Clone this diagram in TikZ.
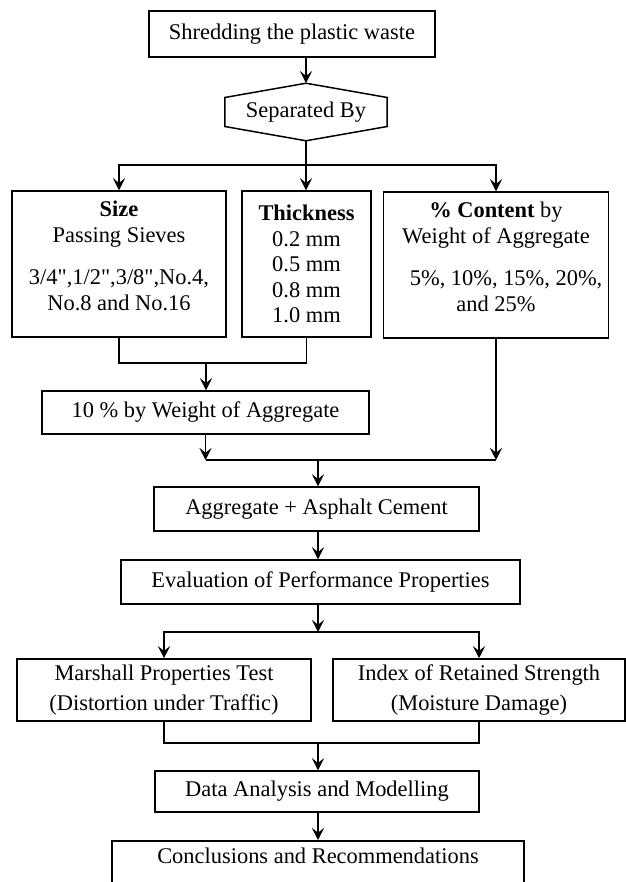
\documentclass[tikz,border=0pt]{standalone}
\usepackage{fontspec}
\setmainfont{Liberation Serif}
\usepackage{tikz}
\usetikzlibrary{arrows.meta}
\usetikzlibrary{calc}

\tikzset{
  box/.style={draw, line width=0.8pt, align=center, inner sep=2pt, font=\fontsize{12}{13.7}\selectfont},
  conn/.style={line width=0.8pt},
  arr/.style={conn, -{Stealth[length=6.5pt,width=6.5pt,inset=2.6pt]}}
}
\newcommand{\qd}{\textquotedbl}

\begin{document}
\begin{tikzpicture}[x=0.535pt,y=-0.535pt]
\useasboundingbox (0,0) rectangle (626,882);

\node[box,minimum width=153pt,minimum height=24.6pt] (shred) at (292,34) {Shredding the plastic waste};

\node[box,draw=none,minimum width=86.1pt,minimum height=30pt] (sep) at (306,112) {Separated By};
\draw[conn] (sep.north) -- ($(sep.west)+(0,-14.5)$) -- ($(sep.west)+(0,14.5)$) -- (sep.south)
  -- ($(sep.east)+(0,14.5)$) -- ($(sep.east)+(0,-14.5)$) -- cycle;

\node[box,minimum width=114.5pt,minimum height=78.1pt] (size) at (119,264)
  {\textbf{Size}\\Passing Sieves\\[9pt]3/4\qd,1/2\qd,3/8\qd,No.4,\\No.8 and No.16\\[-5pt]\mbox{}};
\node[box,minimum width=69pt,minimum height=78.1pt] (thick) at (306.5,264)
  {\textbf{Thickness}\\0.2 mm\\0.5 mm\\0.8 mm\\1.0 mm};
\node[box,minimum width=120.4pt,minimum height=78.1pt] (content) at (496,265)
  {\textbf{\% Content} by\\Weight of Aggregate\\[9pt]\hspace*{0.9em}5\%, 10\%, 15\%, 20\%,\\and 25\%\\[-5pt]\mbox{}};

\node[box,minimum width=174.9pt,minimum height=23pt] (ten) at (205.5,412.5) {10 \% by Weight of Aggregate};
\node[box,minimum width=173.9pt,minimum height=23.5pt] (agg) at (316.5,509) {Aggregate + Asphalt Cement};
\node[box,minimum width=213.5pt,minimum height=23.5pt] (eval) at (320.5,582) {Evaluation of Performance Properties};

\node[box,minimum width=157.3pt,minimum height=33.2pt] (marshall) at (164,690)
  {Marshall Properties Test\\[2pt](Distortion under Traffic)};
\node[box,minimum width=156.2pt,minimum height=33.2pt] (index) at (479,690)
  {Index of Retained Strength\\[2pt](Moisture Damage)};

\node[box,minimum width=173.3pt,minimum height=21.9pt] (data) at (317,791.5) {Data Analysis and Modelling};
\node[box,minimum width=220.4pt,anchor=north,inner ysep=3.6pt,text depth=30pt] (concl) at (318,840)
  {Conclusions and Recommendations};

\coordinate (split) at (306,165);
\coordinate (m1) at (206,363);
\coordinate (j1) at (318,460);
\coordinate (split2) at (318,632);
\coordinate (m2) at (318,743);

\draw[arr] (shred.south -| sep.north) -- (sep.north);
\draw[conn] (sep.south) -- (split);
\draw[arr] (split) -| (size.north);
\draw[arr] (split) -- (split |- thick.north);
\draw[arr] (split) -| (content.north);

\draw[conn] (size.south) |- (m1) -| (thick.south);
\draw[arr] (m1) -- (m1 |- ten.north);

\draw[arr] (ten.south) -- (ten.south |- j1);
\draw[arr] (content.south) -- (content.south |- j1);
\draw[conn] (ten.south |- j1) -- (content.south |- j1);
\draw[arr] (j1) -- (j1 |- agg.north);
\draw[arr] (j1 |- agg.south) -- (j1 |- eval.north);

\draw[arr] (j1 |- eval.south) -- (split2);
\draw[arr] (split2) -| (marshall.north);
\draw[arr] (split2) -| (index.north);

\draw[conn] (marshall.south) |- (m2) -| (index.south);
\draw[arr] (m2) -- (m2 |- data.north);
\draw[arr] (m2 |- data.south) -- (concl.north);

\end{tikzpicture}
\end{document}
